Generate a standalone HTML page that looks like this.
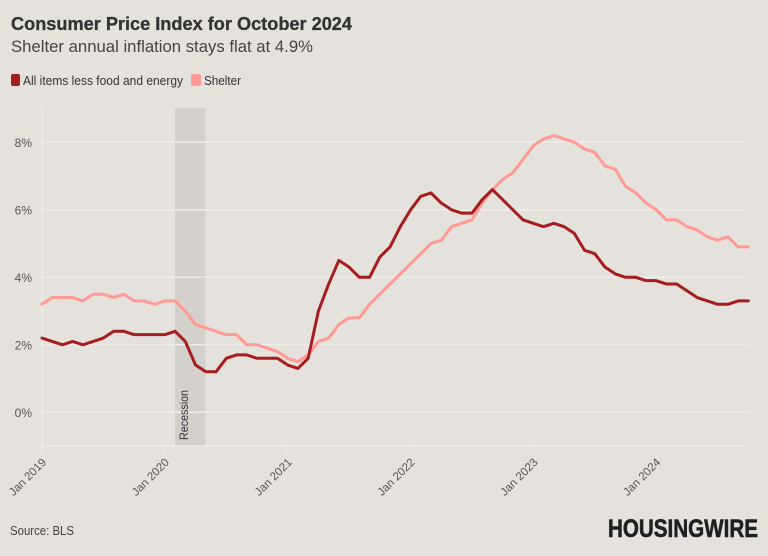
<!DOCTYPE html>
<html>
<head>
<meta charset="utf-8">
<style>
html,body{margin:0;padding:0;background:#e5e2de;}
svg{display:block;}
text{font-family:"Liberation Sans",sans-serif;}
</style>
</head>
<body>
<svg width="768" height="556" viewBox="0 0 768 556" xmlns="http://www.w3.org/2000/svg">
<rect x="0" y="0" width="768" height="556" fill="#e5e2de"/>
<!-- title -->
<text x="11" y="30" font-size="18.5" font-weight="bold" fill="#333333" textLength="341" lengthAdjust="spacingAndGlyphs" stroke="#333333" stroke-width="0.3">Consumer Price Index for October 2024</text>
<text x="11" y="52" font-size="17" fill="#444444" textLength="302" lengthAdjust="spacingAndGlyphs">Shelter annual inflation stays flat at 4.9%</text>
<!-- legend -->
<rect x="11" y="74" width="9" height="12" rx="2" fill="#a51d1f"/>
<text x="23" y="85" font-size="12.5" fill="#333333" textLength="160" lengthAdjust="spacingAndGlyphs">All items less food and energy</text>
<rect x="191" y="74" width="10" height="12" rx="2" fill="#ff9a94"/>
<text x="204" y="85" font-size="12.5" fill="#333333" textLength="37" lengthAdjust="spacingAndGlyphs">Shelter</text>

<!-- recession band -->
<rect x="175" y="108" width="30.5" height="338" fill="#d4d1cd"/>

<!-- grid -->
<g stroke="#efece8" stroke-width="1.5">
<line x1="42" y1="142.3" x2="748" y2="142.3"/>
<line x1="42" y1="209.8" x2="748" y2="209.8"/>
<line x1="42" y1="277.3" x2="748" y2="277.3"/>
<line x1="42" y1="344.8" x2="748" y2="344.8"/>
<line x1="42" y1="412.3" x2="748" y2="412.3"/>
<line x1="42" y1="446" x2="748" y2="446"/>
<line x1="42" y1="108" x2="42" y2="452"/>
<line x1="164.8" y1="446" x2="164.8" y2="452"/>
<line x1="287.7" y1="446" x2="287.7" y2="452"/>
<line x1="410.5" y1="446" x2="410.5" y2="452"/>
<line x1="533.4" y1="446" x2="533.4" y2="452"/>
<line x1="656.2" y1="446" x2="656.2" y2="452"/>
</g>

<!-- y labels -->
<g font-size="12" fill="#555555" text-anchor="end">
<text x="32" y="147">8%</text>
<text x="32" y="214.5">6%</text>
<text x="32" y="282">4%</text>
<text x="32" y="349.5">2%</text>
<text x="32" y="417">0%</text>
</g>

<!-- x labels -->
<g font-size="11.5" fill="#555555" text-anchor="end">
<text transform="translate(47,463) rotate(-45)">Jan 2019</text>
<text transform="translate(169.8,463) rotate(-45)">Jan 2020</text>
<text transform="translate(292.7,463) rotate(-45)">Jan 2021</text>
<text transform="translate(415.5,463) rotate(-45)">Jan 2022</text>
<text transform="translate(538.4,463) rotate(-45)">Jan 2023</text>
<text transform="translate(661.2,463) rotate(-45)">Jan 2024</text>
</g>

<!-- recession label -->
<text transform="translate(188,440) rotate(-90)" font-size="12" fill="#333333" textLength="50" lengthAdjust="spacingAndGlyphs">Recession</text>

<!-- series -->
<g transform="translate(42,412.3) scale(10.237,-33.75)" fill="none" stroke-linejoin="round" stroke-linecap="round">
<polyline vector-effect="non-scaling-stroke" stroke="#ff9a94" stroke-width="3" points="0,3.2 1,3.4 2,3.4 3,3.4 4,3.3 5,3.5 6,3.5 7,3.4 8,3.5 9,3.3 10,3.3 11,3.2 12,3.3 13,3.3 14,3.0 15,2.6 16,2.5 17,2.4 18,2.3 19,2.3 20,2.0 21,2.0 22,1.9 23,1.8 24,1.6 25,1.5 26,1.7 27,2.1 28,2.2 29,2.6 30,2.8 31,2.8 32,3.2 33,3.5 34,3.8 35,4.1 36,4.4 37,4.7 38,5.0 39,5.1 40,5.5 41,5.6 42,5.7 43,6.2 44,6.6 45,6.9 46,7.1 47,7.5 48,7.9 49,8.1 50,8.2 51,8.1 52,8.0 53,7.8 54,7.7 55,7.3 56,7.2 57,6.7 58,6.5 59,6.2 60,6.0 61,5.7 62,5.7 63,5.5 64,5.4 65,5.2 66,5.1 67,5.2 68,4.9 69,4.9"/>
<polyline vector-effect="non-scaling-stroke" stroke="#a51d1f" stroke-width="3" points="0,2.2 1,2.1 2,2.0 3,2.1 4,2.0 5,2.1 6,2.2 7,2.4 8,2.4 9,2.3 10,2.3 11,2.3 12,2.3 13,2.4 14,2.1 15,1.4 16,1.2 17,1.2 18,1.6 19,1.7 20,1.7 21,1.6 22,1.6 23,1.6 24,1.4 25,1.3 26,1.6 27,3.0 28,3.8 29,4.5 30,4.3 31,4.0 32,4.0 33,4.6 34,4.9 35,5.5 36,6.0 37,6.4 38,6.5 39,6.2 40,6.0 41,5.9 42,5.9 43,6.3 44,6.6 45,6.3 46,6.0 47,5.7 48,5.6 49,5.5 50,5.6 51,5.5 52,5.3 53,4.8 54,4.7 55,4.3 56,4.1 57,4.0 58,4.0 59,3.9 60,3.9 61,3.8 62,3.8 63,3.6 64,3.4 65,3.3 66,3.2 67,3.2 68,3.3 69,3.3"/>
</g>

<!-- footer -->
<text x="10" y="535" font-size="12.5" fill="#444444" textLength="64" lengthAdjust="spacingAndGlyphs">Source: BLS</text>
<text x="608" y="537" font-size="25" font-weight="900" fill="#1e2124" textLength="150" lengthAdjust="spacingAndGlyphs" stroke="#1e2124" stroke-width="0.6">HOUSINGWIRE</text>
</svg>
</body>
</html>
